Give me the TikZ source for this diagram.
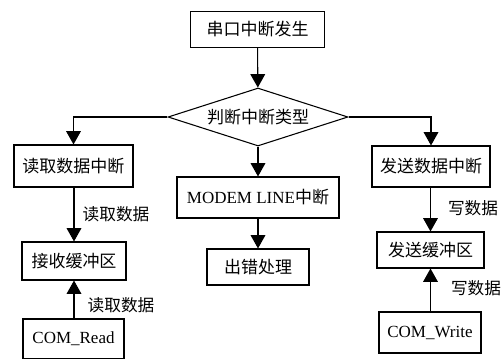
\documentclass[tikz,border=0pt]{standalone}
\usepackage{fontspec}
\setmainfont{Liberation Serif}
\newfontfamily\cjk{Noto Sans CJK SC}
\usetikzlibrary{shapes.geometric,arrows.meta}
\tikzset{
  box/.style={draw,line width=0.8pt,inner sep=0pt,font=\fontsize{12.75}{14}\selectfont},
  arr/.style={line width=0.8pt,-{Triangle[length=10pt,width=11pt]}},
  lbl/.style={font=\cjk\fontsize{12.5}{14}\selectfont,inner sep=0pt}
}
\begin{document}
\begin{tikzpicture}[x=0.75pt,y=-0.75pt]
\clip (0,0) rectangle (504,358);
\node[box,minimum width=100.5pt,minimum height=27pt] (start) at (257.5,29.5) {\cjk 串口中断发生};
\node[box,shape=diamond,aspect=3.1,minimum width=135pt,minimum height=43.5pt] (judge) at (258,117) {\cjk 判断中断类型};
\node[box,minimum width=89.25pt,minimum height=31.5pt] (rdint) at (73.5,166) {\cjk 读取数据中断};
\node[box,minimum width=88.5pt,minimum height=30.75pt] (wrint) at (431,166.5) {\cjk 发送数据中断};
\node[box,minimum width=121.5pt,minimum height=30.75pt] (modem) at (258,197.5) {MODEM LINE{\cjk 中断}};
\node[box,minimum width=76.5pt,minimum height=27pt] (err) at (258,267) {\cjk 出错处理};
\node[box,minimum width=78pt,minimum height=28.5pt] (rbuf) at (74,261) {\cjk 接收缓冲区};
\node[box,minimum width=75.75pt,minimum height=30pt] (cread) at (73.5,339) {COM\_Read};
\node[box,minimum width=80.25pt,minimum height=27pt] (wbuf) at (430.5,250) {\cjk 发送缓冲区};
\node[box,minimum width=76.5pt,minimum height=30.75pt] (cwrite) at (430,332.5) {COM\_Write};

\draw[arr] (start) -- (judge);
\draw[arr] (judge.west) -| (rdint.north);
\draw[arr] (judge.east) -| (wrint.north);
\draw[arr] (judge.south) -- (modem.north);
\draw[arr] (modem) -- (err);
\draw[arr] (rdint.south -| rbuf.north) -- (rbuf.north);
\draw[arr] (cread.north -| rbuf.south) -- (rbuf.south);
\draw[arr] (wrint.south -| wbuf.north) -- (wbuf.north);
\draw[arr] (cwrite.north -| wbuf.south) -- (wbuf.south);

\node[lbl] (l1) at (116,214) {读取数据};
\node[lbl] (l2) at (121,305) {读取数据};
\node[lbl] (l3) at (473,208) {写数据};
\node[lbl] (l4) at (476,288) {写数据};
\end{tikzpicture}
\end{document}
